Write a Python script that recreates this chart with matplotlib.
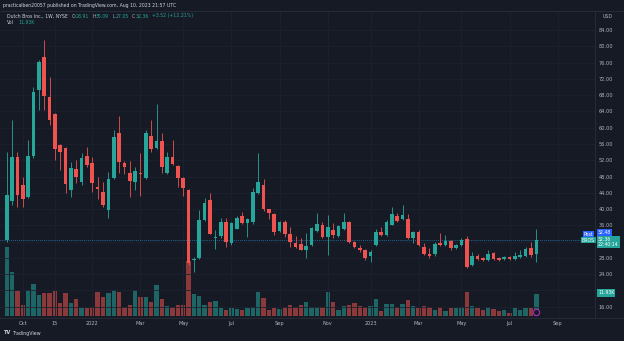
import matplotlib
matplotlib.use("Agg")
import matplotlib.pyplot as plt
import numpy as np
import pandas as pd

# Dutch Bros (BROS) weekly bars, first bar is the IPO week
first_week = "2021-09-13"
opens = [32.4, 42.1, 52.7, 45.9, 43.0, 53.0, 69.3, 77.4, 67.6, 63.3,
         55.7, 54.9, 44.7, 49.8, 46.7, 53.0, 51.4, 45.5, 44.3, 39.8,
         47.6, 58.6, 51.4, 48.9, 46.7, 48.9, 47.6, 58.0, 54.9, 56.8,
         48.8, 52.9, 50.6, 47.6, 44.7, 27.5, 27.9, 37.3, 42.2, 32.8,
         33.4, 36.8, 31.7, 35.1, 38.3, 36.6, 36.8, 44.0, 45.9, 40.0,
         38.8, 34.6, 36.8, 33.9, 31.7, 31.4, 30.0, 31.2, 34.6, 36.1,
         33.1, 34.9, 33.4, 35.1, 36.8, 31.9, 30.5, 30.0, 28.5, 31.2,
         34.4, 33.6, 36.1, 38.3, 37.6, 37.6, 32.9, 34.4, 30.7, 29.0,
         29.0, 31.7, 31.2, 32.2, 30.5, 31.2, 32.6, 26.3, 28.5, 28.0,
         27.5, 29.2, 28.0, 27.7, 28.2, 27.7, 28.2, 28.5, 30.5, 28.91]
highs = [54.1, 61.9, 54.1, 48.0, 57.0, 70.1, 76.6, 81.5, 72.5, 63.6,
         55.9, 55.2, 51.6, 52.1, 53.7, 55.3, 52.9, 48.0, 46.7, 49.2,
         59.4, 62.9, 51.9, 51.9, 50.4, 53.7, 59.5, 61.9, 65.8, 58.8,
         54.1, 57.0, 50.8, 47.8, 44.9, 28.3, 39.8, 42.6, 43.9, 34.8,
         37.7, 37.8, 36.8, 38.3, 39.3, 37.8, 45.2, 53.8, 47.4, 40.0,
         39.0, 37.1, 37.3, 35.6, 33.4, 32.9, 34.1, 35.6, 39.0, 36.8,
         38.5, 36.6, 36.1, 39.0, 37.1, 32.2, 31.1, 30.2, 30.0, 35.1,
         35.6, 37.3, 40.6, 39.0, 41.0, 38.8, 34.6, 34.9, 31.6, 30.4,
         32.0, 34.1, 33.6, 32.4, 31.4, 33.0, 33.4, 29.5, 29.0, 28.2,
         30.0, 29.5, 28.2, 28.5, 28.5, 29.5, 30.0, 30.7, 32.0, 35.09]
lows = [32.0, 41.0, 40.6, 40.6, 42.8, 52.5, 64.3, 64.3, 60.7, 52.1,
        49.6, 43.9, 43.0, 46.3, 45.9, 50.4, 44.3, 42.4, 40.6, 37.9,
        47.4, 48.8, 48.5, 43.0, 44.7, 43.1, 47.4, 54.1, 54.7, 48.8,
        48.6, 50.9, 45.5, 43.1, 26.3, 24.6, 27.7, 37.0, 33.8, 30.1,
        33.0, 30.7, 31.2, 35.0, 36.3, 33.1, 36.3, 43.8, 39.6, 37.6,
        33.6, 34.4, 33.1, 30.7, 30.4, 30.0, 28.0, 31.0, 34.4, 32.9,
        28.7, 32.9, 33.1, 34.9, 31.7, 30.5, 29.5, 27.5, 27.0, 31.0,
        33.4, 33.4, 36.1, 36.8, 37.3, 32.6, 31.7, 31.0, 28.6, 28.0,
        28.5, 30.9, 31.0, 30.0, 30.2, 31.0, 25.6, 25.9, 27.5, 27.2,
        27.3, 27.5, 27.3, 27.5, 27.5, 27.5, 28.0, 28.2, 28.2, 27.05]
closes = [43.5, 52.7, 43.5, 42.5, 53.0, 68.8, 76.2, 67.9, 61.9, 54.8,
          54.1, 46.1, 50.2, 48.0, 52.6, 50.8, 46.3, 44.9, 41.0, 47.4,
          57.8, 51.6, 50.4, 47.0, 49.3, 48.7, 58.6, 54.7, 56.8, 50.4,
          52.9, 51.1, 47.6, 45.1, 26.7, 27.7, 37.3, 41.6, 34.0, 33.2,
          36.8, 31.9, 36.6, 37.8, 36.6, 37.6, 44.2, 46.6, 40.0, 39.0,
          34.4, 36.8, 33.9, 31.9, 30.7, 30.0, 30.9, 35.4, 36.3, 33.1,
          35.6, 33.6, 35.8, 36.8, 31.9, 30.7, 30.0, 28.0, 29.5, 34.4,
          33.6, 36.8, 38.8, 37.0, 38.5, 32.9, 34.4, 31.2, 29.0, 28.5,
          31.4, 31.2, 32.2, 30.5, 31.2, 32.4, 25.8, 28.5, 27.7, 27.5,
          29.0, 27.7, 27.5, 28.2, 27.7, 28.5, 28.7, 30.2, 28.84, 32.36]
# weekly volume, millions of shares
volumes = [37.7, 23.7, 13.8, 6.0, 14.1, 17.2, 11.4, 12.3, 12.3, 13.8,
           6.9, 12.3, 7.2, 9.2, 4.2, 4.5, 5.1, 13.2, 10.5, 12.3,
           14.1, 13.2, 5.1, 6.0, 14.1, 10.2, 10.5, 7.8, 16.8, 9.0,
           5.4, 4.7, 6.0, 6.0, 30.0, 12.0, 10.9, 6.0, 7.6, 8.3,
           4.2, 3.3, 4.2, 3.6, 3.3, 4.2, 5.1, 13.2, 9.6, 3.3,
           4.2, 3.6, 5.1, 6.0, 5.1, 6.0, 7.8, 5.1, 5.1, 4.7,
           13.2, 7.8, 3.3, 5.4, 6.0, 6.9, 5.4, 4.7, 5.4, 9.0,
           2.9, 6.5, 6.5, 5.1, 6.5, 8.7, 5.4, 4.2, 5.4, 4.7,
           3.3, 4.7, 2.9, 4.2, 4.2, 4.7, 13.2, 5.4, 4.2, 3.3,
           4.7, 3.6, 2.9, 3.3, 1.8, 4.2, 3.3, 4.2, 4.2, 11.93]

tick_dates = ["2021-10-04", "2021-11-15", "2022-01-03", "2022-03-07",
              "2022-05-02", "2022-07-04", "2022-09-05", "2022-11-07",
              "2023-01-02", "2023-03-06", "2023-05-01", "2023-07-03",
              "2023-09-04"]
tick_labels = ["Oct", "15", "2022", "Mar", "May", "Jul", "Sep", "Nov",
               "2023", "Mar", "May", "Jul", "Sep"]
price_ticks = list(range(16, 88, 4))
hidden_ticks = [20, 32]  # sit under the price / volume tags
post_price = 32.48

bg = "#161a25"
grid_c = "#1e2230"
txt = "#b2b5be"
up = "#26a69a"
down = "#ef5350"

W, H = 624, 341
fig = plt.figure(figsize=(W / 100, H / 100), dpi=100, facecolor=bg)

# pane: x 0..595 px, y 11..318 px
rect = [0, (H - 318) / H, 595 / W, 307 / H]
axv = fig.add_axes(rect)
ax = fig.add_axes(rect, sharex=axv)
axv.set_facecolor(bg)
ax.patch.set_alpha(0)

start = pd.Timestamp(first_week)
x = np.arange(len(closes))
o = np.array(opens); h = np.array(highs)
lo = np.array(lows); c = np.array(closes)
rising = c >= o
cols = np.where(rising, up, down)

# volume underneath the candles
axv.bar(x, volumes, width=0.82, color=cols, alpha=0.55, linewidth=0)
axv.set_ylim(-2 / 1.84, 305 / 1.84)
axv.set_yticks([])
axv.tick_params(axis="x", bottom=False, labelbottom=False)
axv.plot([x[-1]], [2.3], "o", ms=4.5, mfc=bg, mec="#9c27b0", mew=0.9)

# grid
tick_x = [(pd.Timestamp(d) - start).days / 7 for d in tick_dates]
for tx in tick_x:
    ax.axvline(tx, color=grid_c, lw=0.6, zorder=0)
for py in price_ticks:
    ax.axhline(py, color=grid_c, lw=0.6, zorder=0)

# candles
ax.vlines(x, lo, h, colors=cols, lw=0.6, zorder=2)
body = np.maximum(np.abs(c - o), 0.2)
ax.bar(x, body, bottom=np.minimum(o, c), width=0.68, color=cols,
       linewidth=0, zorder=3)

ax.axhline(c[-1], color=up, lw=0.6, ls=(0, (1, 1.5)), alpha=0.7, zorder=1)
ax.axhline(post_price, color="#2962ff", lw=0.5, ls=(0, (1, 2)), alpha=0.6,
           zorder=1)

ax.set_xlim(-6.7 / 5.35, (595 - 6.7) / 5.35)
ax.set_ylim(84 - 288 / 4.07, 84 + 19 / 4.07)

ax.set_xticks(tick_x)
ax.set_xticklabels(tick_labels)
ax.yaxis.tick_right()
ax.set_yticks(price_ticks)
ax.set_yticklabels(["" if p in hidden_ticks else f"{p:.2f}" for p in price_ticks])
ax.tick_params(axis="both", length=0, colors=txt, labelsize=3.6)
ax.tick_params(axis="x", pad=2.2)
ax.tick_params(axis="y", pad=2.4)
for a in (ax, axv):
    for s in a.spines.values():
        s.set_visible(False)

# separators
fig.add_artist(plt.Line2D([0, 1], [1 - 11 / H] * 2, color="#2a2e39", lw=0.6))
fig.add_artist(plt.Line2D([0, 1], [(H - 318) / H] * 2, color="#2a2e39", lw=0.6))
fig.add_artist(plt.Line2D([595 / W] * 2, [(H - 318) / H, 1 - 11 / H],
                          color="#2a2e39", lw=0.6))


def fx(px):
    return px / W


def fy(py):
    return 1 - py / H


# header and legend
fig.text(fx(3), fy(6), "practicalben20057 published on TradingView.com, Aug 10, 2023 21:57 UTC",
         color="#d1d4dc", fontsize=3.3, va="center", ha="left")
fig.text(fx(603), fy(17), "USD", color=txt, fontsize=3.4, va="center", ha="left")

fs = 3.3
t = fig.text(fx(7), fy(16), "Dutch Bros Inc., 1W, NYSE", color="#d1d4dc",
             fontsize=fs, va="center", ha="left")
for lab, val in [("O", "28.91"), ("H", "35.09"), ("L", "27.05"), ("C", "32.36")]:
    t = ax.annotate(lab, xy=(1, 0), xycoords=t, xytext=(2.5, 0),
                    textcoords="offset points", va="bottom", ha="left",
                    fontsize=fs, color=txt, annotation_clip=False)
    t = ax.annotate(val, xy=(1, 0), xycoords=t, xytext=(0.2, 0),
                    textcoords="offset points", va="bottom", ha="left",
                    fontsize=fs, color=up, annotation_clip=False)
ax.annotate("+3.52 (+12.21%)", xy=(1, 0), xycoords=t, xytext=(2.5, 0),
            textcoords="offset points", va="bottom", ha="left",
            fontsize=fs, color=up, annotation_clip=False)
t = fig.text(fx(7), fy(23), "Vol", color="#d1d4dc", fontsize=fs,
             va="center", ha="left")
ax.annotate("11.93K", xy=(1, 0), xycoords=t, xytext=(3, 0),
            textcoords="offset points", va="bottom", ha="left",
            fontsize=fs, color=up, annotation_clip=False)

# price scale tags
tag = dict(fontsize=3.3, color="white", va="center", ha="left")
fig.text(fx(584), fy(234), "Post", bbox=dict(fc="#2962ff", ec="none", pad=0.6), **tag)
fig.text(fx(598), fy(233), f"{post_price:.2f}",
         bbox=dict(fc="#2962ff", ec="none", pad=0.8), **tag)
fig.text(fx(582), fy(240), "BROS", bbox=dict(fc=up, ec="none", pad=0.6), **tag)
fig.text(fx(598), fy(242), f"{c[-1]:.2f}\n22:40:14",
         bbox=dict(fc=up, ec="none", pad=0.8), linespacing=1.1, **tag)
fig.text(fx(598), fy(293), "11.93K",
         bbox=dict(fc=up, ec="none", pad=0.8), **tag)

# footer
fig.text(fx(4), fy(333), "TV", color="#d1d4dc", fontsize=3.6,
         fontweight="bold", va="center", ha="left")
fig.text(fx(13), fy(333), "TradingView", color="#d1d4dc", fontsize=3.4,
         va="center", ha="left")

fig.savefig("out.png", dpi=100, facecolor=bg)
